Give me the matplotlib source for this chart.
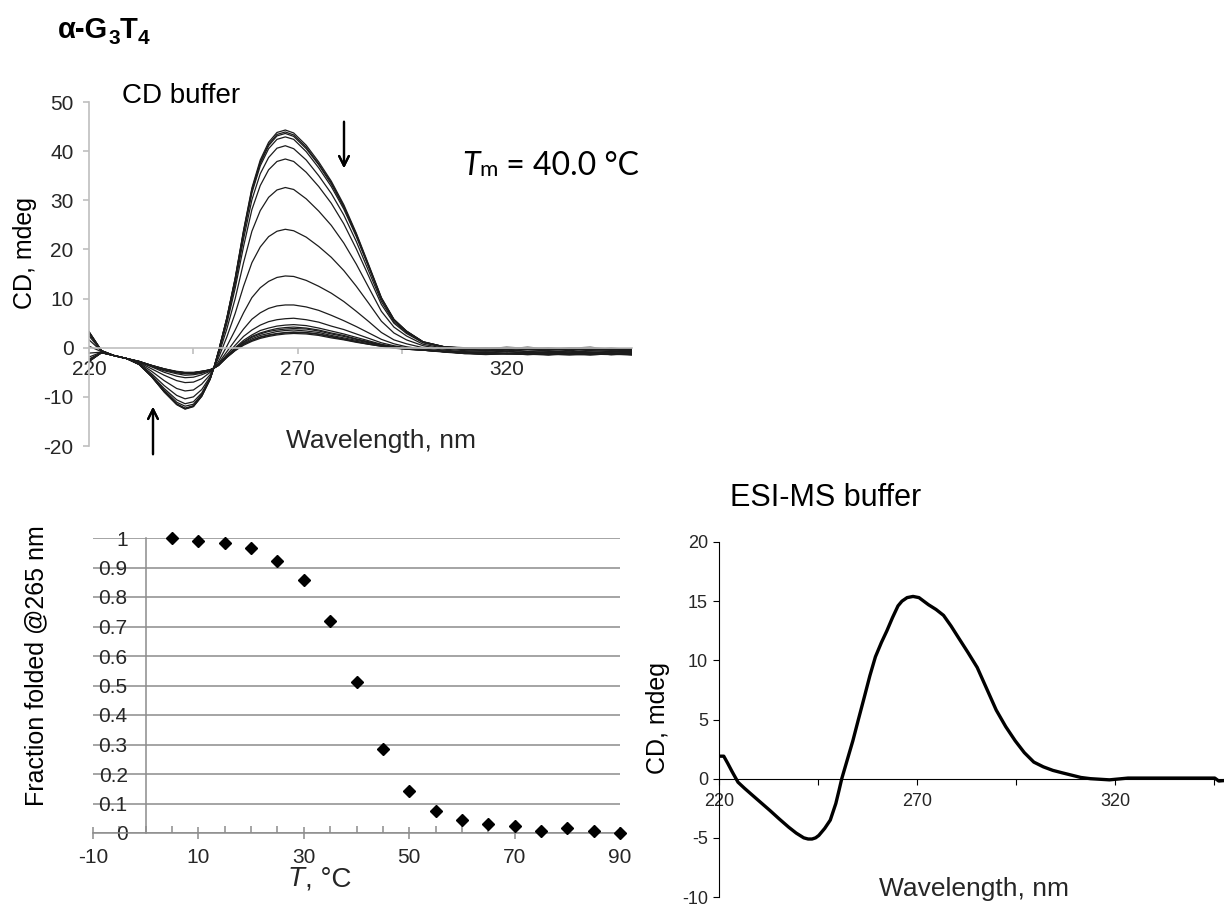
import matplotlib
matplotlib.use("Agg")
import matplotlib.pyplot as plt
from matplotlib.ticker import FixedLocator, FuncFormatter, MultipleLocator

W, H = 1224, 906
SANS = "Liberation Sans"
plt.rcParams["font.family"] = [SANS, "DejaVu Sans"]
plt.rcParams["axes.unicode_minus"] = False
TEXT = "#262626"

# CD melting spectra (mdeg), one row per temperature, CD buffer
CD_WL = [220, 223, 226, 229, 232, 235, 238, 241, 243, 245, 247, 249, 250, 251,
         253, 255, 257, 259, 261, 263, 265, 267, 269, 272, 275, 278, 281, 284,
         287, 290, 293, 296, 300, 305, 310, 315, 320, 325, 330, 335, 340, 345, 350]
CD_TEMPS = [5, 10, 15, 20, 25, 30, 35, 40, 45, 50, 55, 60, 65, 70, 75, 80, 85, 90]

CD_05 = [3.3, -0.6, -1.6, -2.2, -3.4, -5.9, -9.0, -11.6, -12.5, -12.0, -9.9, -6.4, -3.8, -0.7,
         6.1, 14.2, 23.9, 32.5, 38.2, 41.8, 43.8, 44.3, 43.7, 41.2, 37.8, 33.9, 29.1, 23.3,
         16.8, 10.2, 5.8, 3.4, 1.2, 0.2, 0.0, -0.2, 0.1, -0.1, -0.3, 0.0, -0.2, -0.1, -0.4]
CD_10 = [3.2, -0.6, -1.6, -2.2, -3.4, -5.9, -9.0, -11.5, -12.4, -11.9, -9.8, -6.4, -3.8, -0.7,
         6.0, 14.1, 23.7, 32.2, 37.8, 41.4, 43.4, 43.9, 43.3, 40.8, 37.4, 33.6, 28.8, 23.1,
         16.6, 10.1, 5.7, 3.4, 1.2, 0.2, -0.1, 0.0, -0.2, 0.1, -0.2, -0.1, 0.1, -0.3, -0.2]
CD_15 = [3.2, -0.6, -1.6, -2.2, -3.4, -5.9, -8.9, -11.5, -12.4, -11.9, -9.8, -6.4, -3.8, -0.8,
         6.0, 13.9, 23.5, 31.9, 37.5, 41.1, 43.1, 43.6, 43.0, 40.5, 37.2, 33.3, 28.6, 22.9,
         16.5, 10.0, 5.7, 3.3, 1.2, 0.2, -0.2, -0.1, 0.0, -0.3, -0.1, -0.2, -0.4, -0.1, -0.3]
CD_20 = [3.1, -0.6, -1.6, -2.2, -3.4, -5.8, -8.8, -11.4, -12.3, -11.8, -9.7, -6.3, -3.8, -0.8,
         5.8, 13.7, 23.1, 31.5, 37.0, 40.5, 42.4, 42.9, 42.4, 39.9, 36.6, 32.8, 28.2, 22.6,
         16.3, 9.9, 5.6, 3.3, 1.1, 0.2, -0.1, -0.3, -0.1, -0.2, 0.0, -0.3, -0.2, -0.4, -0.2]
CD_25 = [2.8, -0.6, -1.6, -2.2, -3.4, -5.7, -8.6, -11.1, -11.9, -11.5, -9.5, -6.3, -3.8, -0.9,
         5.5, 13.0, 22.1, 30.1, 35.4, 38.7, 40.6, 41.1, 40.5, 38.2, 35.0, 31.4, 27.0, 21.6,
         15.5, 9.4, 5.3, 3.1, 1.1, 0.1, -0.3, -0.2, -0.4, -0.1, -0.3, -0.2, -0.5, -0.3, -0.4]
CD_30 = [2.4, -0.7, -1.6, -2.2, -3.3, -5.6, -8.3, -10.6, -11.4, -11.0, -9.2, -6.1, -3.8, -1.1,
         4.9, 12.1, 20.6, 28.1, 33.0, 36.2, 37.9, 38.4, 37.9, 35.7, 32.8, 29.4, 25.2, 20.1,
         14.5, 8.8, 5.0, 2.9, 1.0, 0.1, -0.3, -0.5, -0.2, -0.4, -0.3, -0.6, -0.3, -0.5, -0.6]
CD_35 = [1.6, -0.7, -1.6, -2.2, -3.2, -5.3, -7.7, -9.7, -10.4, -10.0, -8.5, -5.9, -3.9, -1.5,
         3.8, 10.0, 17.3, 23.7, 27.9, 30.6, 32.1, 32.6, 32.2, 30.3, 27.8, 24.9, 21.3, 17.0,
         12.2, 7.4, 4.2, 2.4, 0.7, -0.1, -0.4, -0.6, -0.4, -0.7, -0.5, -0.3, -0.6, -0.8, -0.7]
CD_40 = [0.3, -0.8, -1.6, -2.2, -3.1, -4.8, -6.7, -8.3, -8.8, -8.6, -7.4, -5.5, -3.9, -2.1,
         2.2, 7.0, 12.5, 17.3, 20.5, 22.6, 23.7, 24.1, 23.8, 22.5, 20.6, 18.4, 15.7, 12.5,
         9.0, 5.4, 3.0, 1.6, 0.4, -0.3, -0.6, -0.7, -0.5, -0.8, -0.6, -0.9, -0.7, -0.6, -0.8]
CD_45 = [-1.1, -0.9, -1.6, -2.2, -3.0, -4.3, -5.6, -6.7, -7.1, -7.0, -6.3, -5.0, -4.0, -2.8,
         0.3, 3.6, 7.1, 10.2, 12.2, 13.5, 14.3, 14.6, 14.5, 13.7, 12.5, 11.1, 9.4, 7.4,
         5.3, 3.1, 1.6, 0.8, 0.0, -0.5, -0.8, -0.9, -0.7, -1.0, -0.8, -0.7, -1.0, -0.9, -1.0]
CD_50 = [-1.9, -0.9, -1.6, -2.2, -2.9, -3.9, -5.0, -5.8, -6.1, -6.0, -5.5, -4.8, -4.1, -3.2,
         -0.8, 1.5, 3.8, 5.8, 7.1, 8.0, 8.5, 8.7, 8.7, 8.3, 7.6, 6.6, 5.5, 4.3,
         3.0, 1.7, 0.8, 0.2, -0.3, -0.7, -0.9, -1.0, -0.8, -1.1, -0.9, -1.2, -0.9, -1.1, -1.2]
CD_55 = [-2.3, -1.0, -1.6, -2.2, -2.8, -3.8, -4.7, -5.3, -5.6, -5.5, -5.2, -4.6, -4.1, -3.4,
         -1.4, 0.5, 2.3, 3.6, 4.6, 5.3, 5.7, 5.9, 6.0, 5.7, 5.2, 4.4, 3.7, 2.8,
         1.9, 1.0, 0.4, 0.0, -0.4, -0.7, -1.0, -0.9, -1.2, -1.0, -1.1, -0.9, -1.2, -1.0, -1.3]
CD_60 = [-2.5, -1.0, -1.6, -2.2, -2.8, -3.7, -4.5, -5.1, -5.3, -5.3, -5.0, -4.6, -4.1, -3.5,
         -1.7, 0.0, 1.5, 2.6, 3.5, 4.0, 4.4, 4.6, 4.7, 4.5, 4.0, 3.4, 2.8, 2.1,
         1.4, 0.7, 0.2, -0.1, -0.4, -0.8, -1.1, -1.0, -1.2, -1.1, -0.9, -1.2, -1.0, -1.3, -1.2]
CD_65 = [-2.6, -1.0, -1.6, -2.2, -2.8, -3.7, -4.4, -5.0, -5.2, -5.2, -5.0, -4.6, -4.1, -3.5,
         -1.7, -0.1, 1.2, 2.3, 3.0, 3.5, 3.9, 4.1, 4.2, 4.0, 3.6, 3.0, 2.5, 1.8,
         1.2, 0.6, 0.2, -0.2, -0.4, -0.8, -1.0, -1.2, -1.1, -1.3, -1.0, -1.2, -1.1, -1.4, -1.2]
CD_70 = [-2.6, -1.0, -1.6, -2.2, -2.8, -3.7, -4.4, -5.0, -5.2, -5.2, -4.9, -4.5, -4.1, -3.5,
         -1.8, -0.2, 1.1, 2.1, 2.8, 3.3, 3.6, 3.8, 3.9, 3.8, 3.4, 2.8, 2.3, 1.7,
         1.1, 0.5, 0.1, -0.2, -0.5, -0.8, -1.1, -1.3, -1.1, -1.2, -1.4, -1.1, -1.3, -1.2, -1.4]
CD_75 = [-2.8, -1.0, -1.6, -2.2, -2.8, -3.6, -4.3, -4.9, -5.1, -5.1, -4.8, -4.5, -4.1, -3.6,
         -1.9, -0.5, 0.7, 1.5, 2.2, 2.6, 2.9, 3.1, 3.2, 3.1, 2.8, 2.3, 1.8, 1.3,
         0.8, 0.4, 0.0, -0.3, -0.5, -0.8, -1.2, -1.1, -1.3, -1.2, -1.4, -1.3, -1.1, -1.4, -1.3]
CD_80 = [-2.7, -1.0, -1.6, -2.2, -2.8, -3.6, -4.4, -4.9, -5.1, -5.1, -4.9, -4.5, -4.1, -3.6,
         -1.9, -0.4, 0.9, 1.8, 2.5, 2.9, 3.3, 3.5, 3.6, 3.4, 3.1, 2.5, 2.0, 1.5,
         1.0, 0.5, 0.1, -0.2, -0.5, -0.8, -1.1, -1.3, -1.2, -1.4, -1.2, -1.3, -1.5, -1.2, -1.4]
CD_85 = [-2.8, -1.0, -1.6, -2.2, -2.8, -3.6, -4.3, -4.9, -5.1, -5.1, -4.8, -4.5, -4.1, -3.6,
         -1.9, -0.5, 0.7, 1.5, 2.1, 2.5, 2.8, 3.0, 3.1, 3.0, 2.7, 2.2, 1.7, 1.2,
         0.7, 0.3, -0.1, -0.3, -0.5, -0.9, -1.2, -1.4, -1.2, -1.3, -1.5, -1.2, -1.4, -1.3, -1.5]
CD_90 = [-2.8, -1.0, -1.6, -2.2, -2.8, -3.6, -4.3, -4.8, -5.0, -5.0, -4.8, -4.5, -4.1, -3.6,
         -2.0, -0.6, 0.5, 1.3, 1.9, 2.3, 2.6, 2.8, 2.9, 2.8, 2.5, 2.0, 1.6, 1.1,
         0.7, 0.3, 0.0, -0.3, -0.5, -0.8, -1.1, -1.3, -1.2, -1.4, -1.3, -1.5, -1.3, -1.4, -1.3]

CD_CURVES = [CD_05, CD_10, CD_15, CD_20, CD_25, CD_30, CD_35, CD_40, CD_45,
             CD_50, CD_55, CD_60, CD_65, CD_70, CD_75, CD_80, CD_85, CD_90]

# fraction folded at 265 nm
MELT_T = [5, 10, 15, 20, 25, 30, 35, 40, 45, 50, 55, 60, 65, 70, 75, 80, 85, 90]
MELT_FRAC = [1.0, 0.99, 0.982, 0.967, 0.922, 0.858, 0.717, 0.513, 0.284, 0.143,
             0.075, 0.043, 0.031, 0.025, 0.008, 0.016, 0.007, 0.0]

# spectrum in ESI-MS buffer
ESI_WL = [220.0, 221.2, 222.2, 223.3, 224.8, 226.4, 228.1, 230.5, 232.9, 235.2,
          237.6, 239.5, 241.4, 242.5, 243.5, 244.4, 245.2, 246.7, 248.1, 249.5,
          250.3, 251.0, 252.4, 253.8, 255.2, 256.7, 258.1, 259.5, 261.0, 262.4,
          263.8, 265.2, 266.2, 267.5, 269.0, 270.5, 272.9, 274.8, 276.7, 278.6,
          280.5, 282.8, 285.2, 287.6, 290.0, 292.4, 294.8, 297.1, 299.5, 301.9,
          304.3, 306.6, 309.0, 311.4, 313.8, 318.6, 323.3, 332.9, 345.2, 346.2,
          348.0, 350.0]
ESI_CD = [1.9, 1.9, 1.3, 0.6, -0.3, -0.8, -1.3, -2.0, -2.7, -3.4,
          -4.1, -4.6, -5.0, -5.1, -5.1, -5.0, -4.8, -4.2, -3.5, -2.1,
          -1.0, 0.0, 1.6, 3.2, 5.0, 6.9, 8.7, 10.3, 11.5, 12.5,
          13.6, 14.6, 15.0, 15.3, 15.4, 15.3, 14.7, 14.3, 13.8, 12.9,
          11.9, 10.7, 9.4, 7.6, 5.8, 4.4, 3.2, 2.2, 1.4, 1.0,
          0.7, 0.5, 0.3, 0.1, 0.0, -0.1, 0.05, 0.05, 0.05, -0.2,
          -0.15, -0.3]

WL_TICKS = [220, 245, 270, 295, 320, 345]


def rect(left, top, right, bottom):
    """Axes rectangle from pixel edges measured from the top-left corner."""
    return [left / W, 1 - bottom / H, (right - left) / W, (bottom - top) / H]


def fy(py):
    return 1 - py / H


def wl_label(v, pos):
    return f"{v:.0f}" if int(round(v - 220)) % 50 == 0 else ""


def put_run(fig, x_px, y_px, pieces):
    """Write text pieces one after another on a common baseline."""
    r = fig.canvas.get_renderer()
    for s, kw, dy in pieces:
        t = fig.text(x_px / W, fy(y_px + dy), s, ha="left", va="baseline", **kw)
        x_px += t.get_window_extent(r).width


fig = plt.figure(figsize=(W / 100, H / 100), dpi=100)

# ---- CD buffer: melting spectra ----
ax1 = fig.add_axes(rect(89, 102, 632, 446))
for curve in CD_CURVES:
    ax1.plot(CD_WL, curve, color="#1c1c1c", lw=0.9)
ax1.set_xlim(220, 350)
ax1.set_ylim(-20, 50)
for side in ("top", "right"):
    ax1.spines[side].set_visible(False)
ax1.spines["left"].set_color("#bfbfbf")
ax1.spines["bottom"].set_color("#bfbfbf")
ax1.spines["bottom"].set_position(("data", 0))
ax1.spines["left"].set_linewidth(1.2)
ax1.spines["bottom"].set_linewidth(1.2)
ax1.xaxis.set_major_locator(FixedLocator(WL_TICKS))
ax1.xaxis.set_major_formatter(FuncFormatter(wl_label))
ax1.yaxis.set_major_locator(MultipleLocator(10))
ax1.tick_params(direction="out", length=4, width=1.2, color="#bfbfbf",
                labelsize=15, labelcolor=TEXT)
ax1.tick_params(axis="y", pad=7)
ax1.tick_params(axis="x", pad=5)

fig.text(25 / W, fy(253), "CD, mdeg", rotation=90, ha="center", va="center",
         fontsize=18, color="black")
fig.text(381 / W, fy(441), "Wavelength, nm", ha="center", va="center",
         fontsize=19, color=TEXT)
fig.text(122 / W, fy(103), "CD buffer", ha="left", va="baseline",
         fontsize=20, color="black")

put_run(fig, 58, 38, [
    ("α-G", dict(fontsize=21, fontweight="bold"), 0),
    ("3", dict(fontsize=15, fontweight="bold"), 6),
    ("T", dict(fontsize=21, fontweight="bold"), 0),
    ("4", dict(fontsize=15, fontweight="bold"), 6),
])
put_run(fig, 462, 175, [
    ("T", dict(fontsize=23, family="Lato", style="italic"), 0),
    ("m", dict(fontsize=16, family="Lato"), 1),
    (" = 40.0 °C", dict(fontsize=23, family="Lato"), 0),
])

arrow = dict(arrowstyle="->,head_length=0.7,head_width=0.35", lw=1.6, color="black")
fig.add_artist(plt.annotate("", xy=(344 / W, fy(171)), xytext=(344 / W, fy(119)),
                            xycoords="figure fraction", arrowprops=arrow))
fig.add_artist(plt.annotate("", xy=(153 / W, fy(404)), xytext=(153 / W, fy(457)),
                            xycoords="figure fraction", arrowprops=arrow))

# ---- fraction folded vs temperature ----
ax2 = fig.add_axes(rect(93, 538, 620, 833))
ax2.plot(MELT_T, MELT_FRAC, linestyle="none", marker="D", ms=6.5, color="black",
         clip_on=False, zorder=3)
ax2.set_xlim(-10, 90)
ax2.set_ylim(0, 1)
for side in ("top", "right"):
    ax2.spines[side].set_visible(False)
grid_c = "#8c8c8c"
ax2.spines["left"].set_position(("data", 0))
ax2.spines["left"].set_color(grid_c)
ax2.spines["bottom"].set_color(grid_c)
ax2.spines["left"].set_linewidth(1.1)
ax2.spines["bottom"].set_linewidth(1.1)
ax2.set_yticks([0, 0.1, 0.2, 0.3, 0.4, 0.5, 0.6, 0.7, 0.8, 0.9, 1.0])
ax2.yaxis.set_major_formatter(FuncFormatter(lambda v, p: f"{round(v, 1):g}"))
ax2.grid(axis="y", color=grid_c, lw=1.1)
ax2.set_axisbelow(True)
ax2.xaxis.set_major_locator(FixedLocator([-10, 10, 30, 50, 70, 90]))
ax2.xaxis.set_minor_locator(FixedLocator([-5, 0, 5, 15, 20, 25, 35, 40, 45, 55,
                                          60, 65, 75, 80, 85]))
ax2.tick_params(axis="y", length=0, pad=13, labelsize=15, labelcolor=TEXT)
ax2.tick_params(axis="x", which="major", direction="inout", length=8, width=1.1,
                color=grid_c, labelsize=15, labelcolor=TEXT, pad=7)
ax2.tick_params(axis="x", which="minor", direction="in", length=5, width=1.1,
                color=grid_c)

fig.text(36 / W, fy(666), "Fraction folded @265 nm", rotation=90, ha="center",
         va="center", fontsize=18, color="black")
put_run(fig, 288, 886, [
    ("T", dict(fontsize=20, style="italic", color=TEXT), 0),
    (", °C", dict(fontsize=20, color=TEXT), 0),
])

# ---- ESI-MS buffer spectrum ----
ax3 = fig.add_axes(rect(719, 542, 719 + 130 * 3.96, 897))
ax3.plot(ESI_WL, ESI_CD, color="black", lw=2.4, solid_capstyle="round",
         solid_joinstyle="round")
ax3.set_xlim(220, 350)
ax3.set_ylim(-10, 20)
for side in ("top", "right"):
    ax3.spines[side].set_visible(False)
ax3.spines["bottom"].set_position(("data", 0))
ax3.xaxis.set_major_locator(FixedLocator(WL_TICKS))
ax3.xaxis.set_major_formatter(FuncFormatter(wl_label))
ax3.yaxis.set_major_locator(MultipleLocator(5))
ax3.tick_params(direction="out", length=4, labelsize=13, labelcolor=TEXT, pad=4)
ax3.tick_params(axis="x", pad=6)

fig.text(730 / W, fy(506), "ESI-MS buffer", ha="left", va="baseline",
         fontsize=22, color="black")
fig.text(658 / W, fy(718), "CD, mdeg", rotation=90, ha="center", va="center",
         fontsize=18, color="black")
fig.text(974 / W, fy(889), "Wavelength, nm", ha="center", va="center",
         fontsize=19, color=TEXT)

fig.savefig("out.png", dpi=100)
